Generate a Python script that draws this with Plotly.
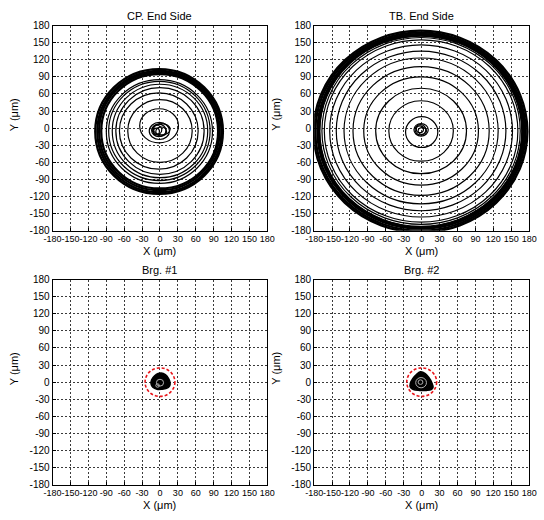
import plotly.graph_objects as go

# ---- axis ticks -------------------------------------------------------------
TICK_VALUES = [-180, -150, -120, -90, -60, -30, 0, 30, 60, 90, 120, 150, 180]
TICK_TEXT = ["-180", "-150", "-120", "-90", "-60", "-30", "0",
             "30", "60", "90", "120", "150", "180"]

PANEL_TITLES = ["CP. End Side", "TB. End Side", "Brg. #1", "Brg. #2"]

# ---- CP. End Side orbit: turns of the spiral (centre x/y, half-width x/y, µm)
CP_ORBIT_CX = [-1, -5, 2, -2, -6, 3, -1.5, 0, -2, 0, 0, -1, -1]
CP_ORBIT_CY = [-5, -3, -6, -4, -6, -2, 4, -5, -5, -5, -5, -5, -6]
CP_ORBIT_RX = [17, 8, 9, 12, 5, 14, 32.5, 54, 66, 74, 80, 85, 89]
CP_ORBIT_RY = [15, 8, 8, 11, 6, 10, 30, 55, 67, 76, 82, 87, 91]
# settled limit cycle (dense band)
CP_BAND_CX = [-1.5, -1, -1, -0.5]
CP_BAND_CY = [-6, -6, -5.5, -5.5]
CP_BAND_RX = [107, 104, 101, 98]
CP_BAND_RY = [109.5, 106.5, 103.5, 100.5]

# ---- TB. End Side orbit ------------------------------------------------------
TB_ORBIT_CX = [-1, -3, 1, -2, 0, -1, -1, -1, -1, -1, -1, -1, -1, -1, -1.5]
TB_ORBIT_CY = [-3, -2, -5, -3, -7, -5, -5, -5, -5, -5, -5, -5, -5, -5, -5.5]
TB_ORBIT_RX = [12, 6, 7, 9, 27, 54, 76, 96, 114, 129, 142, 153, 162, 166, 169]
TB_ORBIT_RY = [11, 6, 6, 9, 27, 53, 75, 95, 113, 128, 140, 151, 160, 164, 167]
TB_BAND_CX = [-2, -2, -1.5, -1.5]
TB_BAND_CY = [-6, -6, -5.5, -5.5]
TB_BAND_RX = [179, 176, 173, 170.5]
TB_BAND_RY = [177, 174, 171, 168.5]

# ---- bearing orbits (filled envelope outline, µm) ---------------------------
BRG1_X = [2, 9, 14, 17, 16, 11, 3, -5, -12, -15, -14, -9, -3, 2]
BRG1_Y = [16, 13, 7, -1, -7, -11, -12.5, -12.5, -9, -3, 4, 11, 15, 16]
BRG2_X = [-2, 6, 12, 17, 19, 16, 8, -4, -14, -19, -19, -15, -8, -2]
BRG2_Y = [18, 15, 8, -1, -9, -13, -14.5, -14.5, -13, -9, -2, 6, 14, 18]
# faint inner loops inside the envelopes
BRG1_LOOP_CX = [0, -4]
BRG1_LOOP_CY = [-1, -6]
BRG1_LOOP_R = [6, 3]
BRG2_LOOP_CX = [-1, -2]
BRG2_LOOP_CY = [-1, 0]
BRG2_LOOP_R = [9, 4]
# bearing clearance circle radius (µm)
CLEARANCE_R = [25, 25]

# ---- layout geometry --------------------------------------------------------
W, H = 544, 520
X_DOMAINS = [[45 / W, 266.7 / W], [315 / W, 537 / W]]
Y_DOMAINS = [[1 - 230 / H, 1 - 20 / H], [1 - 490 / H, 1 - 280 / H]]
FONT = "Liberation Sans, Arial, sans-serif"

fig = go.Figure()
shapes = []


def ring_shapes(xref, yref, cx, cy, rx, ry, width, color="black", dash="solid"):
    out = []
    for a, b, c, d in zip(cx, cy, rx, ry):
        out.append(dict(type="circle", xref=xref, yref=yref,
                        x0=a - c, x1=a + c, y0=b - d, y1=b + d,
                        line=dict(color=color, width=width, dash=dash)))
    return out


panels = [("x", "y"), ("x2", "y2"), ("x3", "y3"), ("x4", "y4")]

# empty anchor traces so every subplot gets drawn
for xr, yr in panels:
    fig.add_trace(go.Scatter(x=[None], y=[None], xaxis=xr, yaxis=yr,
                             showlegend=False, hoverinfo="skip"))

# CP panel
shapes += ring_shapes("x", "y", CP_BAND_CX, CP_BAND_CY, CP_BAND_RX, CP_BAND_RY, 2.3)
shapes += ring_shapes("x", "y", CP_ORBIT_CX, CP_ORBIT_CY, CP_ORBIT_RX, CP_ORBIT_RY, 1.2)
# TB panel
shapes += ring_shapes("x2", "y2", TB_BAND_CX, TB_BAND_CY, TB_BAND_RX, TB_BAND_RY, 2.3)
shapes += ring_shapes("x2", "y2", TB_ORBIT_CX, TB_ORBIT_CY, TB_ORBIT_RX, TB_ORBIT_RY, 1.2)

# bearing panels
for (xr, yr), bx, by, lcx, lcy, lr, rc in [
    (("x3", "y3"), BRG1_X, BRG1_Y, BRG1_LOOP_CX, BRG1_LOOP_CY, BRG1_LOOP_R, CLEARANCE_R[0]),
    (("x4", "y4"), BRG2_X, BRG2_Y, BRG2_LOOP_CX, BRG2_LOOP_CY, BRG2_LOOP_R, CLEARANCE_R[1]),
]:
    fig.add_trace(go.Scatter(x=bx, y=by, xaxis=xr, yaxis=yr, mode="lines",
                             fill="toself", fillcolor="black",
                             line=dict(color="black", width=1.5, shape="spline"),
                             showlegend=False, hoverinfo="skip"))
    shapes += ring_shapes(xr, yr, lcx, lcy, lr, lr, 1, color="#b0b0b0")
    shapes += ring_shapes(xr, yr, [0], [0], [rc], [rc], 1.6, color="#e8161b",
                          dash="3px,2px")

axis_common = dict(
    range=[-180, 180], tickvals=TICK_VALUES, ticktext=TICK_TEXT, tickangle=0,
    showgrid=True, gridcolor="#3a3a3a", griddash="2px,2px", gridwidth=1,
    showline=True, linecolor="black", linewidth=1, mirror=True,
    ticks="inside", ticklen=3, tickcolor="black", zeroline=False,
    fixedrange=True,
)
x_tickfont = dict(family=FONT, size=9, color="black")
y_tickfont = dict(family=FONT, size=10, color="black")

layout_axes = {}
for i, (xr, yr) in enumerate(panels):
    col, row = i % 2, i // 2
    xname = "xaxis" if i == 0 else f"xaxis{i + 1}"
    yname = "yaxis" if i == 0 else f"yaxis{i + 1}"
    layout_axes[xname] = dict(axis_common, domain=X_DOMAINS[col], anchor=yr,
                              tickfont=x_tickfont)
    layout_axes[yname] = dict(axis_common, domain=Y_DOMAINS[row], anchor=xr,
                              tickfont=y_tickfont)

annotations = []
title_y = [1 - 10 / H, 1 - 270 / H]
xlabel_y = [1 - 251 / H, 1 - 511 / H]
ylabel_y = [1 - 111 / H, 1 - 371 / H]
ylabel_x = [6 / W, 276 / W]
for i, t in enumerate(PANEL_TITLES):
    col, row = i % 2, i // 2
    xc = sum(X_DOMAINS[col]) / 2
    annotations.append(dict(text=t, x=xc, y=title_y[row], xref="paper", yref="paper",
                            showarrow=False, xanchor="center", yanchor="middle",
                            font=dict(family=FONT, size=11, color="black")))
    annotations.append(dict(text="X (μm)", x=xc, y=xlabel_y[row], xref="paper",
                            yref="paper", showarrow=False, xanchor="center",
                            yanchor="middle",
                            font=dict(family=FONT, size=11, color="black")))
    annotations.append(dict(text="Y (μm)", x=ylabel_x[col], y=ylabel_y[row],
                            xref="paper", yref="paper", showarrow=False,
                            textangle=-90, xanchor="center", yanchor="middle",
                            font=dict(family=FONT, size=11, color="black")))

fig.update_layout(
    width=W, height=H, margin=dict(l=0, r=0, t=0, b=0),
    paper_bgcolor="white", plot_bgcolor="white",
    showlegend=False, shapes=shapes, annotations=annotations,
    **layout_axes,
)

fig.write_html("out.html")
